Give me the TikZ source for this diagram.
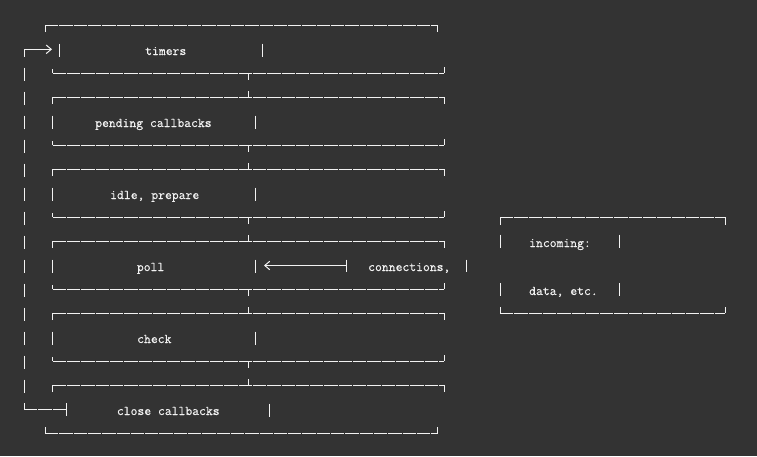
\documentclass[tikz,border=0pt]{standalone}
\usepackage{fontspec}
\newfontfamily\codefont{Latin Modern Mono}[FakeBold=0.35]
\usetikzlibrary{arrows.meta}
\definecolor{bg}{HTML}{333333}
\definecolor{fg}{HTML}{F2F2F2}
\tikzset{
  hline/.style={draw=fg, line width=1pt, dash pattern=on 13.3pt off 1pt},
  vline/.style={draw=fg, line width=1pt},
  barb/.style={draw=fg, line width=1pt, -{Straight Barb[length=5pt,width=8.5pt]}},
  lbl/.style={text=fg, font=\codefont\fontsize{13.3}{14}\selectfont, anchor=base west, inner sep=0pt},
}
\begin{document}
\begin{tikzpicture}[x=1pt,y=-1pt]
\fill[bg] (0,0) rectangle (757,456);
\useasboundingbox (0,0) rectangle (757,456);

% ---- timers box (A)
\draw[vline] (45,32) -- (45,25);
\draw[hline] (45,25) -- (437.7,25);
\draw[vline] (437.7,25) -- (437.7,32);
\draw[vline] (59.3,43.5) -- (59.3,56.5);
\draw[vline] (262.3,43.5) -- (262.3,56.5);
\draw[vline] (52.7,69) -- (52.7,73);
\draw[hline] (52.7,73) -- (444.3,73);
\draw[vline] (444.3,67) -- (444.3,73);
\draw[vline] (248.3,73) -- (248.3,80);

% ---- middle boxes (pending, idle, poll, check)
\foreach \k in {3,6,9,12}{
  \pgfmathsetmacro{\yt}{25+24*\k}
  \pgfmathsetmacro{\yr}{\yt+24}
  \pgfmathsetmacro{\yb}{\yt+48}
  \draw[vline] (248.3,\yt-6) -- (248.3,\yt);
  \draw[vline] (52.7,\yt+7) -- (52.7,\yt);
  \draw[hline] (52.7,\yt) -- (444.3,\yt);
  \draw[vline] (444.3,\yt) -- (444.3,\yt+7);
  \draw[vline] (52.7,\yr-5.5) -- (52.7,\yr+7.5);
  \draw[vline] (255.3,\yr-5.5) -- (255.3,\yr+7.5);
  \draw[vline] (52.7,\yb-4) -- (52.7,\yb);
  \draw[hline] (52.7,\yb) -- (444.3,\yb);
  \draw[vline] (444.3,\yb-6) -- (444.3,\yb);
  \draw[vline] (248.3,\yb) -- (248.3,\yb+7);
}

% ---- close callbacks box (F)
\draw[vline] (248.3,379) -- (248.3,385);
\draw[vline] (52.7,392) -- (52.7,385);
\draw[hline] (52.7,385) -- (444.3,385);
\draw[vline] (444.3,385) -- (444.3,392);
\draw[vline] (269.3,403.5) -- (269.3,416.5);
\draw[vline] (45,427) -- (45,433);
\draw[hline] (45,433) -- (437.7,433);
\draw[vline] (437.7,427) -- (437.7,433);

% ---- loop line on the left
\foreach \k in {2,...,15}{
  \pgfmathsetmacro{\yc}{26+24*\k}
  \draw[vline] (24,\yc-6.5) -- (24,\yc+6.5);
}
\coordinate (loopbot) at (24,403);
\coordinate (loopcorner) at (24,409);
\coordinate (closein) at (66.7,409);
\draw[vline] (loopbot) -- (loopcorner);
\draw[hline] (loopcorner) -- (closein);
\draw[vline] (66.7,403) -- (66.7,416);
\coordinate (looptop) at (24,56.5);
\coordinate (loopturn) at (24,49.3);
\coordinate (timersin) at (52,49.3);
\draw[vline] (looptop) -- (loopturn);
\draw[barb] (loopturn) -- (timersin);

% ---- incoming box
\draw[vline] (500,225) -- (500,217);
\draw[hline] (500,217) -- (725,217);
\draw[vline] (725,217) -- (725,225);
\draw[vline] (500,234.5) -- (500,247.5);
\draw[vline] (619.3,234.5) -- (619.3,247.5);
\draw[vline] (500,283) -- (500,296);
\draw[vline] (619.3,283) -- (619.3,296);
\draw[vline] (500,307) -- (500,313);
\draw[hline] (500,313) -- (725,313);
\draw[vline] (725,307) -- (725,313);

% ---- connections arrow into poll
\coordinate (connout) at (346,265.5);
\coordinate (pollin) at (264,265.5);
\draw[vline] (346,259.5) -- (346,272);
\draw[barb] (connout) -- (pollin);
\draw[vline] (466,259.5) -- (466,272);

% ---- labels
\node[lbl] (timers)   at (145,55)    {timers};
\node[lbl] (pending)  at (95,127)    {pending callbacks};
\node[lbl] (idle)     at (110,199)   {idle, prepare};
\node[lbl] (poll)     at (136.7,271) {poll};
\node[lbl] (conn)     at (368,271)   {connections,};
\node[lbl] (check)    at (137,343)   {check};
\node[lbl] (close)    at (116.7,415) {close callbacks};
\node[lbl] (incoming) at (529,247)   {incoming:};
\node[lbl] (data)     at (529,295)   {data, etc.};
\end{tikzpicture}
\end{document}
